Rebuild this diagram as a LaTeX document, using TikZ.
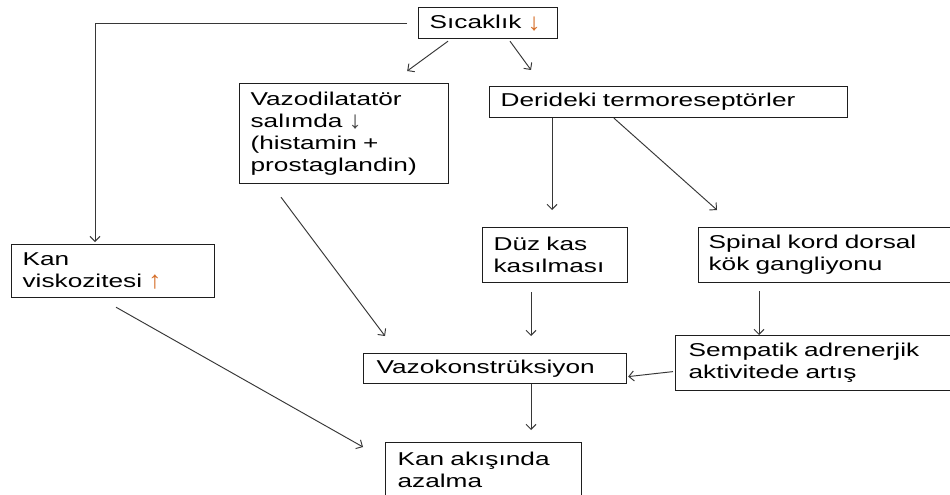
\documentclass[tikz,border=0pt]{standalone}
\usepackage{graphicx}
\usepackage{fontspec}
\setmainfont{Liberation Sans}[FakeStretch=1.41]
\usetikzlibrary{arrows.meta,calc}
\definecolor{boxline}{RGB}{30,30,30}
\definecolor{arrline}{RGB}{55,55,55}
\definecolor{upcol}{RGB}{214,110,40}
\definecolor{dncol}{RGB}{70,70,70}
\newcommand{\bigdn}[1]{{\color{#1}\raisebox{-1.5pt}{\scalebox{1}[1.3]{↓}}}}
\newcommand{\bigup}[1]{{\color{#1}\raisebox{-1pt}{\scalebox{1}[1.3]{↑}}}}
\begin{document}
\begin{tikzpicture}[x=1pt,y=-1pt,
  box/.style={draw=boxline, line width=1.2pt, rectangle, anchor=north west,
    align=left, inner ysep=0pt, font=\fontsize{18.6pt}{22pt}\selectfont},
  arr/.style={draw=arrline, line width=0.95pt, -{Straight Barb[length=5pt,width=10pt]}}]
\useasboundingbox (0,0) rectangle (950,495);
\fill[white] (0,0) rectangle (950,495);
\clip (0,0) rectangle (950,495);

\node[box, inner xsep=11pt, minimum width=139pt, minimum height=31pt, text width=117pt] (sic) at (418,7)
  {Sıcaklık \bigdn{upcol}};
\node[box, inner xsep=11pt, minimum width=209pt, minimum height=100pt, text width=187pt] (vd) at (239,83)
  {Vazodilatatör\\salımda \bigdn{dncol}\\(histamin +\\prostaglandin)};
\node[box, inner xsep=11pt, minimum width=358pt, minimum height=31pt, text width=336pt] (der) at (489,86)
  {Derideki termoreseptörler};
\node[box, inner xsep=11pt, minimum width=203pt, minimum height=53pt, text width=181pt] (kv) at (11,244)
  {Kan\\viskozitesi \bigup{upcol}};
\node[box, inner xsep=11pt, minimum width=145pt, minimum height=55pt, text width=123pt] (duz) at (482,227)
  {Düz kas\\kasılması};
\node[box, inner xsep=10pt, minimum width=262pt, minimum height=55pt, text width=242pt] (sp) at (698,227)
  {Spinal kord dorsal\\kök gangliyonu};
\node[box, inner xsep=13pt, minimum width=285pt, minimum height=55pt, text width=259pt] (sem) at (675,335)
  {Sempatik adrenerjik\\aktivitede artış};
\node[box, inner xsep=13pt, minimum width=263pt, minimum height=30pt, text width=237pt] (vk) at (363,353)
  {Vazokonstrüksiyon};
\node[box, inner xsep=12pt, minimum width=196pt, minimum height=55pt, text width=172pt] (ka) at (385,442)
  {Kan akışında\\azalma};

\draw[arr] ($(sic.west)+(-11,0.5)$) -| ($(kv.north west)+(84,-2)$);
\draw[arr] ($(sic.south west)+(30,2)$) -- ($(vd.north east)+(-42,-12)$);
\draw[arr] ($(sic.south west)+(92,2)$) -- ($(der.north west)+(42,-16)$);
\draw[arr] ($(der.south west)+(63,0)$) -- ($(duz.north west)+(70,-17)$);
\draw[arr] ($(der.south west)+(125,0)$) -- ($(sp.north west)+(19,-17)$);
\draw[arr] ($(vd.south west)+(42,13)$) -- ($(vk.north west)+(22,-17)$);
\draw[arr] ($(kv.south west)+(105,9)$) -- ($(ka.north west)+(-22,5)$);
\draw[arr] ($(duz.south west)+(49,9)$) -- ($(vk.north west)+(168,-17)$);
\draw[arr] ($(sp.south west)+(61,8)$) -- ($(sem.north west)+(84,0)$);
\draw[arr] ($(sem.west)+(-2,8.5)$) -- ($(vk.east)+(1,8)$);
\draw[arr] ($(vk.south west)+(168,0)$) -- ($(ka.north west)+(146,-12)$);
\end{tikzpicture}
\end{document}
